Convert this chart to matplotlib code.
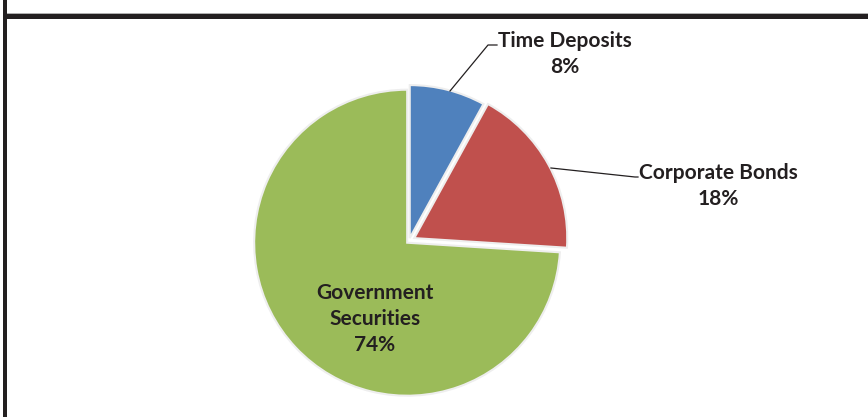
import matplotlib
matplotlib.use("Agg")
import matplotlib.pyplot as plt
from matplotlib.patches import Rectangle

categories = ["Time Deposits", "Corporate Bonds", "Government\nSecurities"]
values = [8, 18, 74]
pct_labels = ["8%", "18%", "74%"]
colors = ["#4F81BD", "#C0504D", "#9BBB59"]

W, H = 868, 417
fig = plt.figure(figsize=(W / 100, H / 100), dpi=100)
ax = fig.add_axes([0, 0, 1, 1])

cx, cy = 409, H - 241
ax.pie(values, colors=colors, startangle=90, counterclock=False,
       center=(cx, cy), radius=153, explode=[3, 6, 2.5],
       wedgeprops=dict(edgecolor="#eeeeee", linewidth=1.5))
ax.set_xlim(0, W)
ax.set_ylim(0, H)
ax.set_aspect("equal")
ax.axis("off")

font = dict(family=["Lato", "DejaVu Sans"], fontweight="bold", fontsize=15,
            color="#231f20", ha="center", va="center", linespacing=1.38)

def py(y):
    return H - y

# Time Deposits label + leader
ax.text(565, py(54), f"{categories[0]}\n{pct_labels[0]}", **font)
ax.plot([450, 488, 497], [py(91), py(45), py(45)], color="#231f20", lw=0.9)
# Corporate Bonds label + leader
ax.text(718, py(186), f"{categories[1]}\n{pct_labels[1]}", **font)
ax.plot([551, 635, 638], [py(168), py(177), py(177)], color="#231f20", lw=0.9)
# Government label inside
ax.text(375, py(319), f"{categories[2]}\n{pct_labels[2]}", **font)

# frame bars
def frect(x0, y0, x1, y1, color):
    fig.add_artist(Rectangle((x0 / W, 1 - y1 / H), (x1 - x0) / W, (y1 - y0) / H,
                             transform=fig.transFigure, color=color, lw=0))

frect(3, 13, W, 14, "#b0b0b0")
frect(3, 14, W, 19, "#231f20")
frect(3, 0, 7, H, "#231f20")

fig.savefig("out.png", dpi=100, facecolor="white")
